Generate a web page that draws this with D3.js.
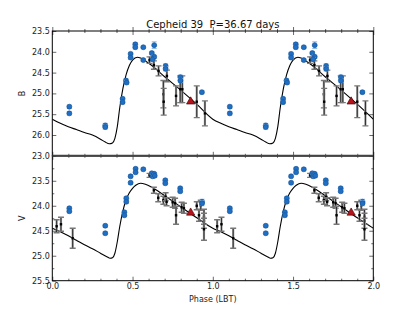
<!DOCTYPE html>
<html>
<head>
<meta charset="utf-8">
<script src="https://cdn.jsdelivr.net/npm/d3@7"></script>
<style>
  body { margin: 0; background: #fff; }
  svg { display: block; font-family: "DejaVu Sans", sans-serif; }
</style>
</head>
<body>
<div id="canvas"></div>
<script>
// ---- data (one pulsation cycle, repeated at phase + 1) ----
const title = "Cepheid 39  P=36.67 days";

// B band, blue points
const bBluePhase = [0.106, 0.106, 0.33, 0.33, 0.438, 0.438, 0.459, 0.463, 0.488, 0.488, 0.517, 0.517, 0.567, 0.567, 0.62, 0.635, 0.635, 0.625, 0.706, 0.706, 0.798, 0.798, 0.932];
const bBlueMag = [25.32, 25.48, 25.77, 25.81, 25.13, 25.21, 24.69, 24.74, 24.05, 24.14, 23.82, 23.89, 23.89, 24.2, 24.03, 24.12, 23.84, 24.18, 24.34, 24.41, 24.61, 24.69, 24.97];
const bBlueErr = [0.04, 0.04, 0.05, 0.05, 0.04, 0.04, 0.04, 0.04, 0.04, 0.04, 0.04, 0.04, 0.03, 0.03, 0.04, 0.04, 0.08, 0.04, 0.05, 0.05, 0.05, 0.05, 0.04];

// B band, LBT points
const bLbtPhase = [0.606, 0.633, 0.662, 0.692, 0.694, 0.714, 0.771, 0.797, 0.81, 0.9, 0.951];
const bLbtMag = [24.2, 24.32, 24.46, 25.02, 25.2, 24.58, 25.06, 24.9, 24.9, 25.2, 25.48];
const bLbtErr = [0.08, 0.1, 0.12, 0.33, 0.32, 0.14, 0.24, 0.32, 0.32, 0.38, 0.3];

// V band, blue points
const vBluePhase = [0.106, 0.106, 0.33, 0.33, 0.449, 0.449, 0.461, 0.461, 0.488, 0.488, 0.519, 0.519, 0.567, 0.62, 0.625, 0.635, 0.638, 0.704, 0.704, 0.797, 0.797, 0.933, 0.933];
const vBlueMag = [24.05, 24.11, 24.4, 24.55, 24.13, 24.19, 23.85, 23.92, 23.41, 23.54, 23.26, 23.33, 23.27, 23.35, 23.41, 23.36, 23.4, 23.49, 23.55, 23.65, 23.71, 23.92, 23.95];
const vBlueErr = [0.03, 0.03, 0.03, 0.03, 0.03, 0.03, 0.03, 0.03, 0.03, 0.03, 0.03, 0.03, 0.03, 0.03, 0.03, 0.03, 0.03, 0.03, 0.03, 0.03, 0.03, 0.05, 0.05];

// V band, LBT points
const vLbtPhase = [0.027, 0.054, 0.127, 0.606, 0.633, 0.66, 0.692, 0.706, 0.712, 0.75, 0.765, 0.771, 0.806, 0.82, 0.9, 0.914, 0.925, 0.945, 0.945, 0.945];
const vLbtMag = [24.41, 24.37, 24.65, 23.39, 23.69, 23.84, 23.89, 23.82, 23.92, 23.93, 23.95, 24.19, 24.03, 24.05, 24.0, 24.19, 23.99, 24.22, 24.3, 24.47];
const vLbtErr = [0.13, 0.14, 0.2, 0.04, 0.06, 0.08, 0.08, 0.08, 0.08, 0.1, 0.1, 0.18, 0.1, 0.1, 0.08, 0.12, 0.1, 0.15, 0.15, 0.22];

// red triangle
const triPhase = 0.862;
const triB = 25.21;
const triV = 24.15;

// template light curves
const tplBPhase = [0, 0.05, 0.1, 0.15, 0.2, 0.25, 0.3, 0.33, 0.355, 0.375, 0.39, 0.405, 0.42, 0.44, 0.46, 0.48, 0.5, 0.53, 0.55, 0.58, 0.62, 0.7, 0.8, 0.9, 1.0];
const tplB = [25.62, 25.72, 25.8, 25.87, 25.94, 26.0, 26.1, 26.17, 26.21, 26.19, 26.08, 25.8, 25.35, 24.88, 24.55, 24.33, 24.2, 24.13, 24.15, 24.22, 24.33, 24.6, 24.92, 25.26, 25.62];
const tplVPhase = [0, 0.05, 0.1, 0.15, 0.2, 0.25, 0.3, 0.34, 0.36, 0.375, 0.39, 0.405, 0.42, 0.44, 0.46, 0.48, 0.5, 0.52, 0.55, 0.58, 0.62, 0.7, 0.8, 0.9, 1.0];
const tplV = [24.45, 24.52, 24.6, 24.69, 24.78, 24.86, 24.95, 25.02, 25.05, 25.04, 24.95, 24.72, 24.42, 24.1, 23.88, 23.74, 23.65, 23.59, 23.55, 23.57, 23.63, 23.8, 24.02, 24.24, 24.45];

const xTickLabels = ["0.0", "0.5", "1.0", "1.5", "2.0"];
const bTickLabels = ["23.5", "24.0", "24.5", "25.0", "25.5", "26.0"];
const vTickLabels = ["23.0", "23.5", "24.0", "24.5", "25.0", "25.5"];

// ---- layout ----
const W = 415, H = 312;
const left = 52.3, right = 373.3;
const topB = 31, mid = 155.8, bottomV = 280.7;

const svg = d3.select("#canvas").append("svg").attr("width", W).attr("height", H);

const x = d3.scaleLinear().domain([0, 2]).range([left, right]);
const yB = d3.scaleLinear().domain([23.5, 26.5]).range([topB, mid]);
const yV = d3.scaleLinear().domain([23.0, 25.5]).range([mid, bottomV]);

// two cycles of a series
const twice = (ph, ...cols) => {
  const out = [];
  [0, 1].forEach(k => ph.forEach((p, i) => out.push([p + k, ...cols.map(c => c[i])])));
  return out;
};
const twiceCurve = (ph, m) => {
  const out = ph.map((p, i) => [p, m[i]]);
  ph.forEach((p, i) => { if (i > 0) out.push([p + 1, m[i]]); });
  return out;
};

svg.append("defs").append("clipPath").attr("id", "clipB")
  .append("rect").attr("x", left).attr("y", topB).attr("width", right - left).attr("height", mid - topB);
svg.select("defs").append("clipPath").attr("id", "clipV")
  .append("rect").attr("x", left).attr("y", mid).attr("width", right - left).attr("height", bottomV - mid);

const drawPanel = (y, clip, tplPh, tpl, blue, lbt, triMag) => {
  const g = svg.append("g").attr("clip-path", `url(#${clip})`);

  g.append("path")
    .datum(twiceCurve(tplPh, tpl))
    .attr("fill", "none")
    .attr("stroke", "#000")
    .attr("stroke-width", 1.1)
    .attr("d", d3.line().x(d => x(d[0])).y(d => y(d[1])).curve(d3.curveMonotoneX));

  // LBT error bars + points
  const lb = g.append("g").selectAll("g").data(lbt).join("g");
  lb.append("line")
    .attr("x1", d => x(d[0])).attr("x2", d => x(d[0]))
    .attr("y1", d => y(d[1] - d[2])).attr("y2", d => y(d[1] + d[2]))
    .attr("stroke", "#9a9a9a").attr("stroke-width", 2.2);
  lb.append("line")
    .attr("x1", d => x(d[0])).attr("x2", d => x(d[0]))
    .attr("y1", d => y(d[1] - d[2])).attr("y2", d => y(d[1] + d[2]))
    .attr("stroke", "#111").attr("stroke-width", 0.8);
  [-1, 1].forEach(s => {
    lb.append("line")
      .attr("x1", d => x(d[0]) - 3).attr("x2", d => x(d[0]) + 3)
      .attr("y1", d => y(d[1] + s * d[2])).attr("y2", d => y(d[1] + s * d[2]))
      .attr("stroke", "#777").attr("stroke-width", 1.3);
  });

  // blue points
  const bl = g.append("g").selectAll("g").data(blue).join("g");
  bl.append("line")
    .attr("x1", d => x(d[0])).attr("x2", d => x(d[0]))
    .attr("y1", d => y(d[1] - d[2])).attr("y2", d => y(d[1] + d[2]))
    .attr("stroke", "#8fbbe6").attr("stroke-width", 1);
  [-1, 1].forEach(s => {
    bl.append("line")
      .attr("x1", d => x(d[0]) - 2.5).attr("x2", d => x(d[0]) + 2.5)
      .attr("y1", d => y(d[1] + s * d[2])).attr("y2", d => y(d[1] + s * d[2]))
      .attr("stroke", "#8fbbe6").attr("stroke-width", 1);
  });
  bl.append("circle")
    .attr("cx", d => x(d[0])).attr("cy", d => y(d[1]))
    .attr("r", 2.5)
    .attr("fill", "#1f6fc5").attr("stroke", "#124f8f").attr("stroke-width", 0.6);

  lb.append("rect")
    .attr("x", d => x(d[0]) - 1.2).attr("y", d => y(d[1]) - 1.2)
    .attr("width", 2.4).attr("height", 2.4).attr("fill", "#000");

  // red triangle
  g.selectAll("path.tri").data([triPhase, triPhase + 1]).join("path")
    .attr("class", "tri")
    .attr("d", d3.symbol().type(d3.symbolTriangle).size(30))
    .attr("transform", d => `translate(${x(d)},${y(triMag) - 0.5})`)
    .attr("fill", "#b5121b").attr("stroke", "#3a0000").attr("stroke-width", 0.6);
};

drawPanel(yB, "clipB", tplBPhase, tplB,
  twice(bBluePhase, bBlueMag, bBlueErr), twice(bLbtPhase, bLbtMag, bLbtErr), triB);
drawPanel(yV, "clipV", tplVPhase, tplV,
  twice(vBluePhase, vBlueMag, vBlueErr), twice(vLbtPhase, vLbtMag, vLbtErr), triV);

// ---- ticks ----
const tickGroup = (axis, transform) => {
  const t = svg.append("g").attr("transform", transform).call(axis);
  t.select(".domain").remove();
  t.selectAll("line").attr("stroke", "#000").attr("stroke-width", 0.6);
  t.attr("font-size", 8).attr("font-family", "DejaVu Sans, sans-serif");
  t.selectAll("text").attr("fill", "#222");
  return t;
};
const xMajor = xTickLabels.map(Number);
const xMinor = d3.range(21).map(i => i / 10).filter(v => !xMajor.some(m => Math.abs(m - v) < 1e-9));

[topB, mid, bottomV].forEach((yy, i) => {
  const labelled = i === 2;
  tickGroup(d3.axisBottom(x).tickValues(xMajor).tickSize(-4).tickPadding(3)
    .tickFormat(labelled ? (d, k) => xTickLabels[k] : ""), `translate(0,${yy})`);
  tickGroup(d3.axisBottom(x).tickValues(xMinor).tickSize(-2).tickFormat(""), `translate(0,${yy})`);
  if (i < 2) {
    tickGroup(d3.axisTop(x).tickValues(xMajor).tickSize(-4).tickFormat(""), `translate(0,${yy})`);
    tickGroup(d3.axisTop(x).tickValues(xMinor).tickSize(-2).tickFormat(""), `translate(0,${yy})`);
  }
});

const bVals = bTickLabels.map(Number);
tickGroup(d3.axisLeft(yB).tickValues(bVals).tickSize(-4).tickPadding(2.5).tickFormat((d, k) => bTickLabels[k]), `translate(${left},0)`);
tickGroup(d3.axisRight(yB).tickValues(bVals).tickSize(-4).tickFormat(""), `translate(${right},0)`);

const vVals = vTickLabels.map(Number);
const vMinor = d3.range(23.25, 25.5, 0.5);
tickGroup(d3.axisLeft(yV).tickValues(vVals).tickSize(-4).tickPadding(2.5).tickFormat((d, k) => vTickLabels[k]), `translate(${left},0)`);
tickGroup(d3.axisRight(yV).tickValues(vVals).tickSize(-4).tickFormat(""), `translate(${right},0)`);
tickGroup(d3.axisLeft(yV).tickValues(vMinor).tickSize(-2).tickFormat(""), `translate(${left},0)`);
tickGroup(d3.axisRight(yV).tickValues(vMinor).tickSize(-2).tickFormat(""), `translate(${right},0)`);

// ---- frames ----
svg.append("rect").attr("x", left).attr("y", topB).attr("width", right - left).attr("height", mid - topB)
  .attr("fill", "none").attr("stroke", "#000").attr("stroke-width", 1);
svg.append("rect").attr("x", left).attr("y", mid).attr("width", right - left).attr("height", bottomV - mid)
  .attr("fill", "none").attr("stroke", "#000").attr("stroke-width", 1);
svg.append("line").attr("x1", left).attr("x2", right).attr("y1", mid).attr("y2", mid)
  .attr("stroke", "#444").attr("stroke-width", 2);

// ---- text ----
svg.append("text").attr("x", (left + right) / 2).attr("y", 27.5)
  .attr("text-anchor", "middle").attr("font-size", 10).attr("fill", "#111")
  .style("white-space", "pre").attr("xml:space", "preserve").text(title);
svg.append("text").attr("x", (left + right) / 2).attr("y", 302)
  .attr("text-anchor", "middle").attr("font-size", 8).attr("fill", "#222").text("Phase (LBT)");
svg.append("text").attr("transform", `translate(24.5,${(topB + mid) / 2}) rotate(-90)`)
  .attr("text-anchor", "middle").attr("font-size", 8).attr("fill", "#222").text("B");
svg.append("text").attr("transform", `translate(24.5,${(mid + bottomV) / 2}) rotate(-90)`)
  .attr("text-anchor", "middle").attr("font-size", 8).attr("fill", "#222").text("V");
</script>
</body>
</html>
